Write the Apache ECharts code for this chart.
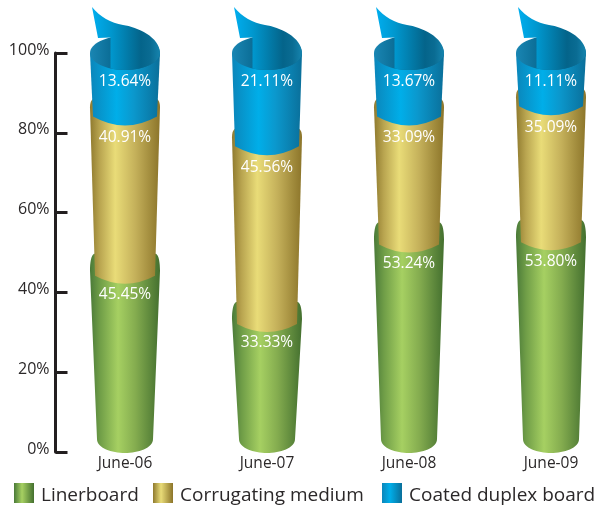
<!DOCTYPE html>
<html>
<head>
<meta charset="utf-8">
<style>html,body{margin:0;padding:0;background:#fff}#chart{width:598px;height:508px}</style>
<script src="https://cdn.jsdelivr.net/npm/echarts@6/dist/echarts.min.js"></script>
</head>
<body>
<div id="chart"></div>
<script>
// Share of each board grade per reporting period, in percent
const categories = ['June-06', 'June-07', 'June-08', 'June-09'];
const linerboard = [45.45, 33.33, 53.24, 53.80];
const corrugating = [40.91, 45.56, 33.09, 35.09];
const coated = [13.64, 21.11, 13.67, 11.11];
const yTicks = [0, 20, 40, 60, 80, 100];

const FONT = '"Open Sans", "Noto Sans", sans-serif';
const INK = '#2b2829';

function hGrad(stops) {
  return new echarts.graphic.LinearGradient(0, 0, 1, 0,
    stops.map(function (s) { return { offset: s[0], color: s[1] }; }));
}
const greenStops = [[0, '#4a7a38'], [0.14, '#6f9d47'], [0.4, '#a6d062'], [0.65, '#84ac4f'], [1, '#44702f']];
const goldStops = [[0, '#8f7a2e'], [0.14, '#b9a550'], [0.36, '#e9dc78'], [0.65, '#c4b05a'], [1, '#8c752a']];
const blueStops = [[0, '#0b86ba'], [0.38, '#00aee9'], [0.62, '#0b98cd'], [1, '#0a6f9a']];

// Tube proportions: half widths at both ends, shoulder rise and lower seam offsets
const TUBE = { topHalf: 35, rimRy: 17 };
const LINER = { botHalf: 28, shoulder: 17, label: 24 };
const CORR = { botHalf: 30, shoulder: 9, corner: 5, depth: 8, label: 30 };
const COAT = { botHalf: 32, corner: 9, depth: 9, label: 29 };

function shoulderPath(cx, yT, h) {
  const t = TUBE.topHalf;
  return 'M' + (cx - t) + ' ' + yT +
    'C' + (cx - t) + ' ' + (yT - h * 0.45) + ' ' + (cx - t + 1) + ' ' + (yT - h * 0.9) + ' ' + (cx - t + 4) + ' ' + (yT - h) +
    'L' + (cx + t - 4) + ' ' + (yT - h) +
    'C' + (cx + t - 1) + ' ' + (yT - h * 0.9) + ' ' + (cx + t) + ' ' + (yT - h * 0.45) + ' ' + (cx + t) + ' ' + yT;
}
function seamPath(cx, yB, half, corner, depth) {
  return 'L' + (cx + half) + ' ' + (yB + corner) +
    'Q' + cx + ' ' + (yB + corner + depth * 2) + ' ' + (cx - half) + ' ' + (yB + corner) + 'Z';
}
function labelEl(cx, y, v) {
  return {
    type: 'text',
    style: {
      x: cx, y: y, text: v.toFixed(2) + '%', fill: '#fff',
      font: '15.5px ' + FONT, textAlign: 'center', textVerticalAlign: 'middle'
    }
  };
}

function renderLiner(params, api) {
  const p = api.coord([api.value(0), api.value(2)]);
  const yB = api.coord([api.value(0), api.value(1)])[1];
  const cx = p[0], yT = p[1], b = LINER.botHalf;
  const d = shoulderPath(cx, yT, LINER.shoulder) +
    'L' + (cx + b) + ' ' + (yB - 13) +
    'C' + (cx + b) + ' ' + (yB - 4) + ' ' + (cx + 13) + ' ' + (yB + 1) + ' ' + cx + ' ' + (yB + 1) +
    'C' + (cx - 13) + ' ' + (yB + 1) + ' ' + (cx - b) + ' ' + (yB - 4) + ' ' + (cx - b) + ' ' + (yB - 13) + 'Z';
  return {
    type: 'group',
    children: [
      { type: 'path', shape: { pathData: d }, style: { fill: hGrad(greenStops) } },
      labelEl(cx, yT + LINER.label, api.value(3))
    ]
  };
}

function renderCorr(params, api) {
  const p = api.coord([api.value(0), api.value(2)]);
  const yB = api.coord([api.value(0), api.value(1)])[1];
  const cx = p[0], yT = p[1];
  const d = shoulderPath(cx, yT, CORR.shoulder) + seamPath(cx, yB, CORR.botHalf, CORR.corner, CORR.depth);
  return {
    type: 'group',
    children: [
      { type: 'path', shape: { pathData: d }, style: { fill: hGrad(goldStops) } },
      labelEl(cx, yT + CORR.label, api.value(3))
    ]
  };
}

function renderCoat(params, api) {
  const p = api.coord([api.value(0), api.value(2)]);
  const yB = api.coord([api.value(0), api.value(1)])[1];
  const cx = p[0], yT = p[1], t = TUBE.topHalf, r = TUBE.rimRy;
  const body = 'M' + (cx - t) + ' ' + yT + 'L' + (cx + t) + ' ' + yT +
    seamPath(cx, yB, COAT.botHalf, COAT.corner, COAT.depth);
  // The curled sheet rises from the rim, starting at the fold inside the tube
  const foldX = cx - 14.5;
  const foldDy = r * Math.sqrt(1 - (14.5 * 14.5) / (t * t));
  const flap = 'M' + (cx - 33) + ' ' + (yT - 46) +
    'C' + (cx - 25) + ' ' + (yT - 36) + ' ' + (cx - 14) + ' ' + (yT - 30) + ' ' + (cx - 2) + ' ' + (yT - 28) +
    'C' + (cx + 12) + ' ' + (yT - 26) + ' ' + (cx + 35) + ' ' + (yT - 16) + ' ' + (cx + t) + ' ' + yT +
    'A' + t + ' ' + r + ' 0 0 1 ' + foldX + ' ' + (yT + foldDy) +
    'L' + foldX + ' ' + (yT - foldDy) +
    'L' + (cx - 27) + ' ' + (yT - 15) + 'Z';
  return {
    type: 'group',
    children: [
      { type: 'path', shape: { pathData: body }, style: { fill: hGrad(blueStops) } },
      {
        type: 'ellipse', shape: { cx: cx, cy: yT, rx: t, ry: r },
        style: { fill: hGrad([[0, '#1a86b3'], [0.3, '#0b6d96'], [1, '#0b6d96']]) }
      },
      {
        type: 'path', shape: { pathData: flap },
        style: { fill: hGrad([[0, '#00aeef'], [0.28, '#0097ce'], [0.72, '#04648a'], [0.86, '#0a6c93'], [1, '#1684ae']]) }
      },
      labelEl(cx, yT + COAT.label, api.value(3))
    ]
  };
}

// Cumulative spans so each segment sits on the previous one
function spans(values, below) {
  return values.map(function (v, i) {
    const base = below ? below[i] : 0;
    return [i, base, base + v, v];
  });
}
const linerData = spans(linerboard);
const corrData = spans(corrugating, linerData.map(function (d) { return d[2]; }));
const coatData = spans(coated, corrData.map(function (d) { return d[2]; }));

function legendEntry(left, name, stops) {
  return {
    left: left, top: 483, itemWidth: 20, itemHeight: 20, icon: 'rect', selectedMode: false,
    padding: 0,
    formatter: '{t|{name}}',
    textStyle: {
      rich: { t: { fontFamily: FONT, fontSize: 19, color: INK, padding: [5, 0, 0, 2] } }
    },
    data: [{ name: name, itemStyle: { color: hGrad(stops) } }]
  };
}

const chart = echarts.init(document.getElementById('chart'), null, { renderer: 'canvas' });
chart.setOption({
  animation: false,
  backgroundColor: '#fff',
  grid: { left: 54, top: 53, width: 568, bottom: 56, containLabel: false, outerBoundsMode: 'none' },
  legend: [
    legendEntry(14, 'Linerboard', [[0, '#4a7a38'], [0.4, '#a6d062'], [1, '#44702f']]),
    legendEntry(153, 'Corrugating medium', [[0, '#8f7a2e'], [0.4, '#e9dc78'], [1, '#8c752a']]),
    legendEntry(382, 'Coated duplex board', [[0, '#0b86ba'], [0.4, '#00aee9'], [1, '#0a6f9a']])
  ],
  xAxis: {
    type: 'category', data: categories,
    axisLine: { show: false }, axisTick: { show: false },
    axisLabel: { margin: 4, color: INK, fontFamily: FONT, fontSize: 15.5, interval: 0, hideOverlap: false }
  },
  yAxis: {
    type: 'value', min: yTicks[0], max: yTicks[yTicks.length - 1], interval: 20, offset: -1.5,
    splitLine: { show: false },
    axisLine: { show: true, lineStyle: { color: '#231f20', width: 3 } },
    axisTick: { show: true, inside: true, length: 12, lineStyle: { color: '#231f20', width: 3 } },
    axisLabel: { margin: 6, color: INK, fontFamily: FONT, fontSize: 16, formatter: '{value}%', verticalAlign: 'bottom', lineHeight: 6 }
  },
  series: [
    { type: 'custom', name: 'Linerboard', renderItem: renderLiner, data: linerData, clip: false, encode: { x: 0, y: [1, 2] } },
    { type: 'custom', name: 'Corrugating medium', renderItem: renderCorr, data: corrData, clip: false, encode: { x: 0, y: [1, 2] } },
    { type: 'custom', name: 'Coated duplex board', renderItem: renderCoat, data: coatData, clip: false, encode: { x: 0, y: [1, 2] } }
  ]
});
</script>
</body>
</html>
